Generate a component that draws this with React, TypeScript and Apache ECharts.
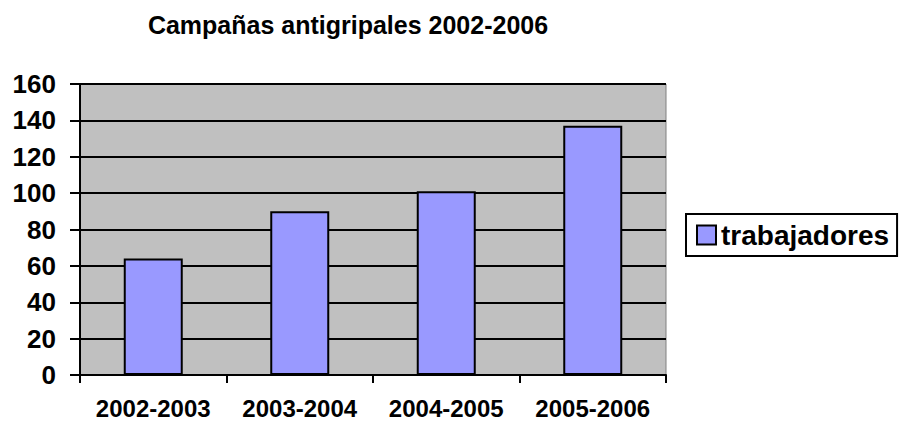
import React, { useEffect, useRef } from "react";
import * as echarts from "echarts";

const categories = ["2002-2003", "2003-2004", "2004-2005", "2005-2006"];
const trabajadores = [64, 90, 101, 137];
const seriesName = "trabajadores";
const titleText = "Campañas antigripales 2002-2006";

export default function App() {
  const ref = useRef<HTMLDivElement>(null);
  useEffect(() => {
    document.body.style.margin = "0";
    const chart = echarts.init(ref.current!, null, { renderer: "svg" });
    const font = "Liberation Sans, Arial, sans-serif";
    chart.setOption({
      animation: false,
      backgroundColor: "#ffffff",
      title: {
        text: titleText,
        left: 343,
        textAlign: "center",
        top: 7,
        textStyle: { fontFamily: font, fontWeight: "bold", fontSize: 25, color: "#000" },
      },
      legend: {
        data: [seriesName],
        orient: "vertical",
        left: 686,
        top: 214,
        padding: [7, 8, 7, 10],
        borderColor: "#000",
        borderWidth: 2,
        itemWidth: 19,
        itemHeight: 19,
        icon: "rect",
        itemStyle: { borderColor: "#000", borderWidth: 2 },
        textStyle: { fontFamily: font, fontWeight: "bold", fontSize: 28, color: "#000" },
      },
      grid: {
        left: 80,
        right: 240,
        top: 84,
        bottom: 48,
        show: true,
        backgroundColor: "#C0C0C0",
        borderColor: "#808080",
        borderWidth: 1,
      },
      xAxis: {
        type: "category",
        data: categories,
        boundaryGap: true,
        axisLine: { lineStyle: { color: "#000", width: 2 } },
        axisTick: { show: true, interval: 0, length: 8, lineStyle: { color: "#000", width: 2 } },
        axisLabel: {
          interval: 0,
          hideOverlap: false,
          margin: 21,
          fontFamily: font,
          fontWeight: "bold",
          fontSize: 24,
          color: "#000",
        },
      },
      yAxis: {
        type: "value",
        min: 0,
        max: 160,
        interval: 20,
        axisLine: { show: true, lineStyle: { color: "#000", width: 2 } },
        axisTick: { show: true, length: 10, lineStyle: { color: "#000", width: 2 } },
        splitLine: { show: true, lineStyle: { color: "#000", width: 2 } },
        axisLabel: {
          margin: 24,
          fontFamily: font,
          fontWeight: "bold",
          fontSize: 26,
          color: "#000",
        },
      },
      series: [
        {
          name: seriesName,
          type: "bar",
          data: trabajadores,
          barWidth: 59,
          itemStyle: { color: "#9999FF", borderColor: "#000", borderWidth: 2 },
        },
      ],
    });
    return () => chart.dispose();
  }, []);
  return <div ref={ref} style={{ width: 906, height: 423 }} />;
}
